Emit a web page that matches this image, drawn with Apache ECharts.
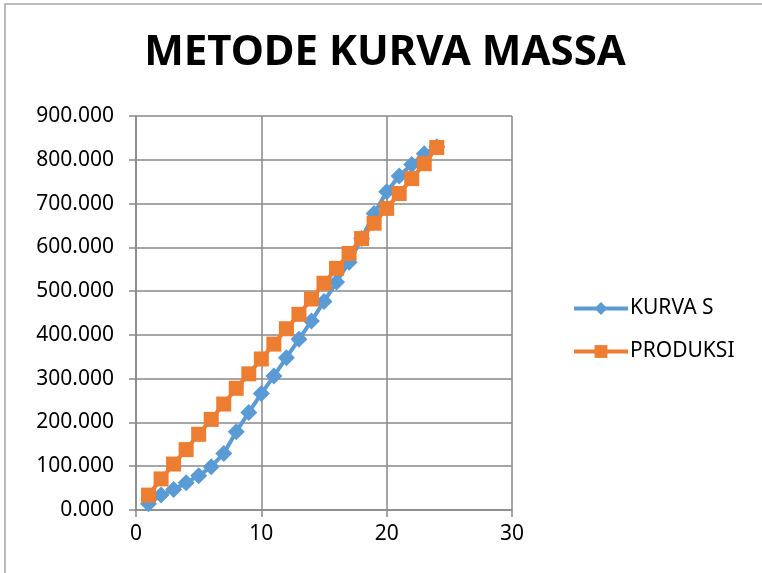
<!DOCTYPE html>
<html>
<head>
<meta charset="utf-8">
<script src="https://cdn.jsdelivr.net/npm/echarts@6/dist/echarts.min.js"></script>
<style>
  html, body { margin: 0; padding: 0; background: #fff; }
  #chart { width: 762px; height: 573px; }
</style>
</head>
<body>
<div id="chart"></div>
<script>
  // data
  var periode = [1, 2, 3, 4, 5, 6, 7, 8, 9, 10, 11, 12, 13, 14, 15, 16, 17, 18, 19, 20, 21, 22, 23, 24];
  var kurvaS = [14, 34, 47, 62, 78, 99, 129, 179, 223, 266, 306, 348, 390, 432, 476, 521, 566, 620, 677, 727, 763, 789, 814, 830];
  var produksi = [34, 71, 105, 138, 173, 207, 242, 278, 311, 345, 379, 414, 447, 482, 518, 552, 586, 620, 655, 689, 723, 757, 791, 828];

  function pairs(ys) {
    var res = [];
    for (var i = 0; i < periode.length; i++) {
      res.push([periode[i], ys[i]]);
    }
    return res;
  }

  var font = 'Noto Sans';
  var myChart = echarts.init(document.getElementById('chart'));
  var option = {
    backgroundColor: '#fff',
    animation: false,
    title: {
      text: 'METODE KURVA MASSA',
      left: 380,
      textAlign: 'center',
      top: 27,
      textStyle: { color: '#000', fontFamily: font, fontWeight: 'bold', fontSize: 42 }
    },
    graphic: [{
      type: 'rect',
      shape: { x: 5, y: 4, width: 900, height: 700 },
      style: { fill: 'none', stroke: '#a6a6a6', lineWidth: 1.5 },
      silent: true
    }],
    legend: {
      orient: 'vertical',
      left: 567,
      top: 293,
      itemGap: 22,
      itemWidth: 54,
      itemHeight: 16,
      lineStyle: { width: 4 },
      textStyle: { color: '#000', fontFamily: font, fontSize: 21, padding: [0, 0, 0, -3] },
      data: ['KURVA S', 'PRODUKSI']
    },
    grid: { left: 136, right: 250, top: 116, bottom: 63 },
    xAxis: {
      type: 'value',
      min: 0, max: 30, interval: 10,
      axisLine: { show: true, lineStyle: { color: '#898989', width: 1.5 } },
      axisTick: { show: true, length: 7, lineStyle: { color: '#898989', width: 1.5 } },
      splitLine: { show: true, lineStyle: { color: '#898989', width: 1.5 } },
      axisLabel: { color: '#000', fontFamily: font, fontSize: 21, margin: 14 }
    },
    yAxis: {
      type: 'value',
      min: 0, max: 900, interval: 100,
      axisLine: { show: true, lineStyle: { color: '#898989', width: 1.5 } },
      axisTick: { show: true, length: 7, lineStyle: { color: '#898989', width: 1.5 } },
      splitLine: { show: true, lineStyle: { color: '#898989', width: 1.5 } },
      axisLabel: {
        color: '#000', fontFamily: font, fontSize: 21, margin: 22,
        formatter: function (v) { return v.toFixed(3); }
      }
    },
    series: [
      {
        name: 'KURVA S',
        type: 'line',
        data: pairs(kurvaS),
        symbol: 'diamond',
        symbolSize: 17,
        color: '#5b9bd5',
        lineStyle: { width: 4, color: '#5b9bd5' },
        itemStyle: { color: '#5b9bd5' },
        z: 2
      },
      {
        name: 'PRODUKSI',
        type: 'line',
        data: pairs(produksi),
        symbol: 'rect',
        symbolSize: 15,
        color: '#ed7d31',
        lineStyle: { width: 4, color: '#ed7d31' },
        itemStyle: { color: '#ed7d31' },
        z: 3
      }
    ]
  };
  myChart.setOption(option);
</script>
</body>
</html>
